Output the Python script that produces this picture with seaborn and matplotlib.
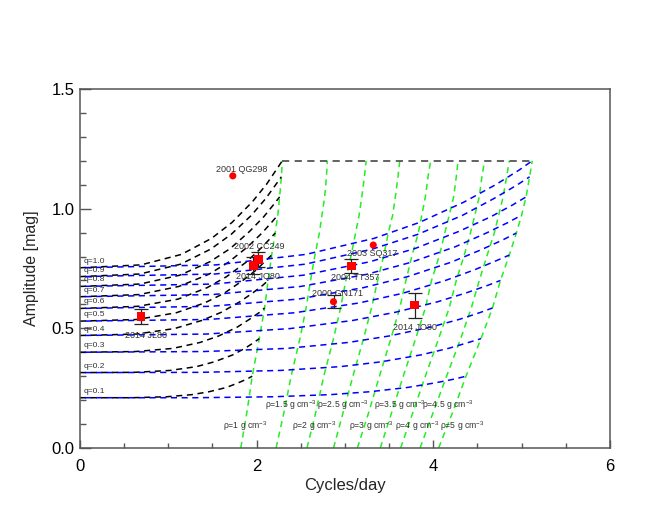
import numpy as np
import pandas as pd
import seaborn as sns
import matplotlib.pyplot as plt
from matplotlib.ticker import MultipleLocator

# Roche sequences: one row per mass ratio q
q_values = [0.1, 0.2, 0.3, 0.4, 0.5, 0.6, 0.7, 0.8, 0.9, 1.0]
q_labels = ['q=0.1', 'q=0.2', 'q=0.3', 'q=0.4', 'q=0.5',
            'q=0.6', 'q=0.7', 'q=0.8', 'q=0.9', 'q=1.0']
# amplitude along each sequence (same for the 1 and 5 g/cm3 branches)
curve_amp = [
    [0.210, 0.210, 0.214, 0.223, 0.235, 0.253, 0.272, 0.288, 0.300],
    [0.315, 0.316, 0.324, 0.340, 0.360, 0.389, 0.417, 0.441, 0.457],
    [0.400, 0.403, 0.416, 0.441, 0.468, 0.505, 0.538, 0.566, 0.585],
    [0.470, 0.476, 0.499, 0.533, 0.567, 0.611, 0.649, 0.680, 0.700],
    [0.530, 0.537, 0.565, 0.606, 0.646, 0.699, 0.745, 0.782, 0.806],
    [0.583, 0.592, 0.622, 0.670, 0.716, 0.776, 0.828, 0.870, 0.898],
    [0.632, 0.641, 0.675, 0.726, 0.776, 0.841, 0.898, 0.943, 0.973],
    [0.675, 0.685, 0.722, 0.778, 0.833, 0.905, 0.966, 1.016, 1.049],
    [0.716, 0.727, 0.768, 0.831, 0.892, 0.972, 1.041, 1.097, 1.133],
    [0.753, 0.765, 0.809, 0.876, 0.942, 1.028, 1.101, 1.161, 1.200],
]
# frequency (cycles/day) for density 1 g/cm3 (black)
black_freq = [
    [0, 0.59, 0.98, 1.27, 1.46, 1.66, 1.79, 1.89, 1.95],
    [0, 0.61, 1.02, 1.32, 1.52, 1.73, 1.87, 1.97, 2.03],
    [0, 0.63, 1.05, 1.36, 1.57, 1.78, 1.92, 2.03, 2.09],
    [0, 0.64, 1.07, 1.38, 1.60, 1.81, 1.96, 2.07, 2.13],
    [0, 0.65, 1.09, 1.41, 1.63, 1.84, 2.00, 2.10, 2.17],
    [0, 0.66, 1.11, 1.44, 1.66, 1.88, 2.03, 2.14, 2.21],
    [0, 0.67, 1.12, 1.46, 1.68, 1.90, 2.06, 2.17, 2.24],
    [0, 0.68, 1.13, 1.47, 1.70, 1.92, 2.08, 2.19, 2.26],
    [0, 0.68, 1.14, 1.48, 1.71, 1.94, 2.10, 2.21, 2.28],
    [0, 0.69, 1.15, 1.49, 1.72, 1.95, 2.11, 2.22, 2.29],
]
# frequency (cycles/day) for density 5 g/cm3 (blue)
blue_freq = [
    [0, 1.31, 2.19, 2.84, 3.28, 3.71, 4.02, 4.24, 4.37],
    [0, 1.36, 2.27, 2.95, 3.41, 3.86, 4.18, 4.40, 4.54],
    [0, 1.40, 2.34, 3.04, 3.50, 3.97, 4.30, 4.53, 4.67],
    [0, 1.43, 2.38, 3.09, 3.57, 4.05, 4.38, 4.62, 4.76],
    [0, 1.46, 2.43, 3.16, 3.65, 4.13, 4.47, 4.71, 4.86],
    [0, 1.48, 2.47, 3.21, 3.71, 4.20, 4.54, 4.79, 4.94],
    [0, 1.50, 2.50, 3.25, 3.75, 4.25, 4.60, 4.85, 5.00],
    [0, 1.52, 2.53, 3.28, 3.79, 4.29, 4.65, 4.90, 5.05],
    [0, 1.53, 2.55, 3.31, 3.82, 4.33, 4.68, 4.94, 5.09],
    [0, 1.54, 2.56, 3.33, 3.84, 4.35, 4.71, 4.97, 5.12],
]

# constant density lines (green)
rho_values = [1, 1.5, 2, 2.5, 3, 3.5, 4, 4.5, 5]
rho_labels = ['ρ=1 g cm$^{-3}$', 'ρ=1.5 g cm$^{-3}$', 'ρ=2 g cm$^{-3}$',
              'ρ=2.5 g cm$^{-3}$', 'ρ=3 g cm$^{-3}$', 'ρ=3.5 g cm$^{-3}$',
              'ρ=4 g cm$^{-3}$', 'ρ=4.5 g cm$^{-3}$', 'ρ=5 g cm$^{-3}$']
rho_amp = [0, 0.15, 0.30, 0.457, 0.585, 0.70, 0.806, 0.898, 0.973, 1.049, 1.133, 1.20]
rho_freq = [
    [1.82, 1.89, 1.95, 2.03, 2.09, 2.13, 2.17, 2.21, 2.24, 2.26, 2.28, 2.29],
    [2.22, 2.31, 2.39, 2.49, 2.56, 2.61, 2.66, 2.71, 2.74, 2.77, 2.79, 2.80],
    [2.57, 2.67, 2.76, 2.87, 2.95, 3.01, 3.07, 3.12, 3.16, 3.19, 3.22, 3.24],
    [2.87, 2.98, 3.09, 3.21, 3.30, 3.37, 3.44, 3.49, 3.54, 3.57, 3.60, 3.62],
    [3.14, 3.27, 3.39, 3.52, 3.62, 3.69, 3.76, 3.83, 3.87, 3.91, 3.94, 3.97],
    [3.40, 3.53, 3.66, 3.80, 3.91, 3.98, 4.07, 4.13, 4.18, 4.23, 4.26, 4.28],
    [3.63, 3.77, 3.91, 4.06, 4.18, 4.26, 4.35, 4.42, 4.47, 4.52, 4.55, 4.58],
    [3.85, 4.00, 4.15, 4.31, 4.43, 4.52, 4.61, 4.69, 4.74, 4.79, 4.83, 4.86],
    [4.06, 4.22, 4.37, 4.54, 4.67, 4.76, 4.86, 4.94, 5.00, 5.05, 5.09, 5.12],
]
top_freq = [2.29, 5.12]
top_amp = [1.2, 1.2]

# objects
obj_names = ['2001 QG298', '2002 CC249', '2014 JQ80', '2003 SQ317',
             '2004 TT357', '2000 GN171', '2014 JO80', '2014 JL80']
obj_freq = [1.73, 2.02, 1.96, 3.32, 3.07, 2.87, 3.79, 0.69]
obj_amp = [1.137, 0.788, 0.761, 0.848, 0.760, 0.611, 0.597, 0.548]
obj_err = [0, 0.03, 0.035, 0, 0.028, 0.028, 0.052, 0.031]
obj_shape = ['circle', 'square', 'square', 'circle',
             'square', 'circle', 'square', 'square']

# label positions (text centre)
obj_label_xy = [(1.83, 1.165), (2.025, 0.84), (2.02, 0.715), (3.31, 0.813),
                (3.11, 0.711), (2.92, 0.646), (3.79, 0.504), (0.75, 0.469)]
rho_label_xy = [(1.62, 0.092), (2.10, 0.177), (2.40, 0.092), (2.68, 0.177),
                (3.05, 0.092), (3.33, 0.177), (3.57, 0.092), (3.87, 0.177),
                (4.08, 0.092)]

sns.set_theme(style='ticks')
plt.rcParams['font.family'] = ['Liberation Sans', 'DejaVu Sans']
plt.rcParams['mathtext.default'] = 'regular'

fig, ax = plt.subplots(figsize=(6.54, 5.05), dpi=100)
fig.subplots_adjust(left=0.1223, right=0.9327, bottom=0.1129, top=0.8238)

rows = []
for q, xb, xB, ys in zip(q_values, black_freq, blue_freq, curve_amp):
    for a, b, y in zip(xb, xB, ys):
        rows.append({'q': q, 'black': a, 'blue': b, 'amp': y})
roche = pd.DataFrame(rows)

grows = []
for r, xs in zip(rho_values, rho_freq):
    for x, y in zip(xs, rho_amp):
        grows.append({'rho': r, 'freq': x, 'amp': y})
dens = pd.DataFrame(grows)

dash = (0, (4, 3))
sns.lineplot(data=dens, x='freq', y='amp', units='rho', estimator=None, sort=False,
             color='#22ee22', linewidth=1.1, linestyle=dash, legend=False, ax=ax)
sns.lineplot(data=roche, x='black', y='amp', units='q', estimator=None, sort=False,
             color='black', linewidth=1.1, linestyle=dash, legend=False, ax=ax)
sns.lineplot(data=roche, x='blue', y='amp', units='q', estimator=None, sort=False,
             color='#0000ff', linewidth=1.1, linestyle=(3.5, (4, 3)), legend=False, ax=ax)
ax.plot(top_freq, top_amp, color='#555555', lw=1.3, linestyle=dash)

objs = pd.DataFrame({'name': obj_names, 'freq': obj_freq, 'amp': obj_amp,
                     'err': obj_err, 'shape': obj_shape})
eb = objs[objs['err'] > 0]
ax.errorbar(eb['freq'], eb['amp'], yerr=eb['err'], fmt='none', ecolor='#222222',
            elinewidth=0.9, capsize=5, capthick=0.9, zorder=4)
sns.scatterplot(data=objs, x='freq', y='amp', style='shape',
                markers={'circle': 'o', 'square': 's'}, size='shape',
                sizes={'circle': 26, 'square': 40}, color='red', edgecolor='none',
                legend=False, zorder=5, ax=ax)

for name, (x, y) in zip(obj_names, obj_label_xy):
    ax.text(x, y, name, fontsize=6.5, color='#333333', ha='center', va='center')
for lab, (x, y) in zip(rho_labels, rho_label_xy):
    ax.text(x, y, lab, fontsize=6.2, color='#333333', ha='left', va='center')
for lab, ys in zip(q_labels, curve_amp):
    ax.text(0.045, ys[0] + 0.027, lab, fontsize=6, color='#333333', ha='left', va='center')

ax.set_xlim(0, 6)
ax.set_ylim(0, 1.5)
ax.xaxis.set_major_locator(MultipleLocator(2))
ax.xaxis.set_minor_locator(MultipleLocator(0.5))
ax.yaxis.set_major_locator(MultipleLocator(0.5))
ax.yaxis.set_minor_locator(MultipleLocator(0.1))
ax.xaxis.set_major_formatter(plt.FormatStrFormatter('%d'))
ax.yaxis.set_major_formatter(plt.FormatStrFormatter('%.1f'))
ax.tick_params(axis='both', which='both', direction='in', color='#555555',
               labelcolor='black', labelsize=12)
ax.tick_params(axis='x', which='major', length=6, width=1, pad=8)
ax.tick_params(axis='x', which='minor', length=3.5, width=1)
ax.tick_params(axis='y', which='major', length=8, width=1, pad=4)
ax.tick_params(axis='y', which='minor', length=4.5, width=1)
for s in ax.spines.values():
    s.set_color('#555555')
    s.set_linewidth(1.1)

ax.set_xlabel('Cycles/day', fontsize=12, labelpad=3)
ax.set_ylabel('Amplitude [mag]', fontsize=11.5, labelpad=9)

fig.savefig('out.png', dpi=100)
